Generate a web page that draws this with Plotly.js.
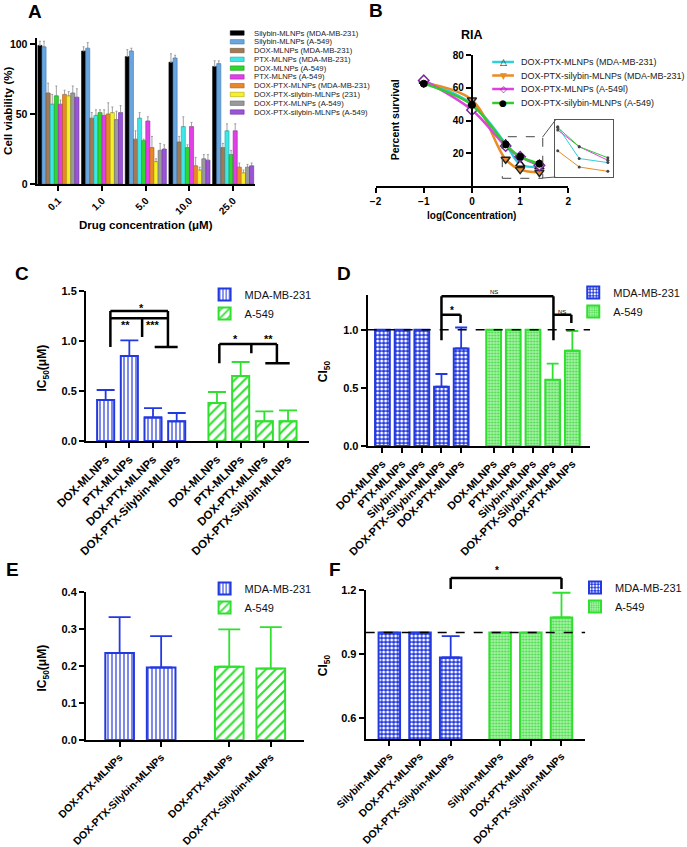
<!DOCTYPE html>
<html><head><meta charset="utf-8">
<script src="https://cdn.plot.ly/plotly-3.0.1.min.js"></script>
<style>html,body{margin:0;padding:0;background:#fff}</style>
</head><body><div id="chart" style="width:687px;height:847px"></div>
<script>
// ================= DATA =================
// Panel A: cell viability (%) at each drug concentration
const concLabels = ['0.1', '1.0', '5.0', '10.0', '25.0'];
const aNames = ['Silybin-MLNPs (MDA-MB-231)', 'Silybin-MLNPs (A-549)', 'DOX-MLNPs (MDA-MB-231)',
  'PTX-MLNPs (MDA-MB-231)', 'DOX-MLNPs (A-549)', 'PTX-MLNPs (A-549)', 'DOX-PTX-MLNPs (MDA-MB-231)',
  'DOX-PTX-silybin-MLNPs (231)', 'DOX-PTX-MLNPs (A-549)', 'DOX-PTX-silybin-MLNPs (A-549)'];
const silybinMDA = [99, 95, 91, 87, 84];
const silybinA549 = [98, 97, 95, 90, 86];
const doxMDA = [65, 47, 32, 30, 26];
const ptxMDA = [57, 49, 47, 41, 38];
const doxA549 = [63, 51, 31, 26, 21];
const ptxA549 = [57, 49, 45, 41, 38];
const doxPtxMDA = [64, 50, 26, 13, 12];
const doxPtxSilMDA = [63, 51, 16, 10, 8];
const doxPtxA549 = [65, 46, 24, 18, 12];
const doxPtxSilA549 = [62, 51, 25, 17, 13];
const silybinMDAErr = [3, 3, 5, 6, 4];
const silybinA549Err = [4, 4, 2, 2, 2];
const doxMDAErr = [7, 4, 6, 4, 3];
const ptxMDAErr = [7, 4, 4, 7, 5];
const doxA549Err = [7, 2, 1, 2, 3];
const ptxA549Err = [3, 4, 3, 3, 5];
const doxPtxMDAErr = [3, 8, 8, 6, 3];
const doxPtxSilMDAErr = [3, 4, 2, 2, 2];
const doxPtxA549Err = [5, 6, 5, 3, 2];
const doxPtxSilA549Err = [6, 5, 3, 4, 2];

// Panel B: RIA percent survival vs log(concentration)
const logConc = [-1, 0, 0.7, 1, 1.4];
const bNames = ['DOX-PTX-MLNPs (MDA-MB-231)', 'DOX-PTX-silybin-MLNPs (MDA-MB-231)', 'DOX-PTX-MLNPs (A-549l)', 'DOX-PTX-silybin-MLNPs (A-549)'];
const survDoxPtxMDA = [64, 50, 25.7, 13.3, 11.7];
const survDoxPtxSilMDA = [63, 52.5, 16.3, 10, 8.3];
const survDoxPtxA549 = [64.5, 46.4, 24.4, 17.9, 12.6];
const survDoxPtxSilA549 = [62.5, 49.5, 25.4, 17.9, 13.6];

// Panel C: IC50 (uM)
const cLabels = ['DOX-MLNPs', 'PTX-MLNPs', 'DOX-PTX-MLNPs', 'DOX-PTX-Silybin-MLNPs'];
const cMDA = [0.41, 0.85, 0.235, 0.197];
const cMDAErr = [0.10, 0.157, 0.093, 0.083];
const cA549 = [0.38, 0.65, 0.197, 0.197];
const cA549Err = [0.11, 0.14, 0.10, 0.11];

// Panel D: CI50
const dLabels = ['DOX-MLNPs', 'PTX-MLNPs', 'Silybin-MLNPs', 'DOX-PTX-Silybin-MLNPs', 'DOX-PTX-MLNPs'];
const dMDA = [1, 1, 1, 0.51, 0.84];
const dMDAErr = [0, 0, 0, 0.11, 0.18];
const dA549 = [1, 1, 1, 0.57, 0.82];
const dA549Err = [0, 0, 0, 0.14, 0.17];

// Panel E: IC50 (uM)
const eLabels = ['DOX-PTX-MLNPs', 'DOX-PTX-Silybin-MLNPs'];
const eMDA = [0.235, 0.196];
const eMDAErr = [0.097, 0.085];
const eA549 = [0.198, 0.193];
const eA549Err = [0.101, 0.112];

// Panel F: CI50
const fLabels = ['Silybin-MLNPs', 'DOX-PTX-MLNPs', 'DOX-PTX-Silybin-MLNPs'];
const fMDA = [1, 1, 0.883];
const fMDAErr = [0, 0, 0.10];
const fA549 = [1, 1, 1.071];
const fA549Err = [0, 0, 0.116];

const groupNames = ['MDA-MB-231', 'A-549'];

// ================= STYLE / LAYOUT HELPERS =================
const W = 687, H = 847;
const PX = x => x / W, PY = y => 1 - y / H;
const dx = (a, b) => [PX(a), PX(b)];
const dy = (top, bottom) => [PY(bottom), PY(top)];
const FONT = 'Arial, "Liberation Sans", Helvetica, sans-serif';
const BLUE = '#2339e0', GREEN = '#2fe02f';

const aValues = [silybinMDA, silybinA549, doxMDA, ptxMDA, doxA549, ptxA549, doxPtxMDA, doxPtxSilMDA, doxPtxA549, doxPtxSilA549];
const aErrors = [silybinMDAErr, silybinA549Err, doxMDAErr, ptxMDAErr, doxA549Err, ptxA549Err, doxPtxMDAErr, doxPtxSilMDAErr, doxPtxA549Err, doxPtxSilA549Err];
const aColors = ['#000000', '#6aa6de', '#a27b56', '#3ee6e6', '#2fd62f', '#e040e6', '#e8882a', '#f4f02a', '#9a9a9a', '#9a55d6'];
const aLines = ['#000000', '#3a78b8', '#6e5034', '#1aa8a8', '#1a9a1a', '#a020a8', '#b05a10', '#b0a800', '#666666', '#6a2aa8'];

const bSeries = [survDoxPtxMDA, survDoxPtxSilMDA, survDoxPtxA549, survDoxPtxSilA549];
const bColors = ['#2fd0dc', '#e98c25', '#e040e0', '#35c835'];
const bMarkers = [
  {symbol: 'triangle-up', size: 8, color: '#ffffff', line: {color: '#111', width: 1.5}},
  {symbol: 'triangle-down', size: 8, color: '#e98c25', line: {color: '#222', width: 1.5}},
  {symbol: 'diamond', size: 8, color: '#ffffff', line: {color: '#7a2aa0', width: 1.5}},
  {symbol: 'circle', size: 7, color: '#000000', line: {color: '#000', width: 1}}
];
const bLegendGlyphs = ['\u25B3', '\u25BC', '\u25C7', '\u25CF'];
const bLegendGlyphColors = ['#111', '#e98c25', '#7a2aa0', '#000'];

function axis(extra) {
  return Object.assign({
    showline: true, linecolor: '#000', linewidth: 2, ticks: 'outside', ticklen: 5, tickwidth: 2,
    tickcolor: '#000', showgrid: false, zeroline: false, fixedrange: true,
    tickfont: {family: FONT, size: 11, color: '#000', weight: 'bold'}
  }, extra);
}

// Position helper for grouped category bars placed on a numeric axis
function positions(n, group, gap) { return Array.from({length: n}, (_, i) => group * (n + gap) + i); }

const traces = [];

// ---------- Panel A ----------
aValues.forEach((vals, i) => {
  traces.push({
    type: 'bar', x: concLabels, y: vals, name: aNames[i], xaxis: 'x', yaxis: 'y', showlegend: false,
    marker: {color: aColors[i], line: {color: aLines[i], width: 0.6}},
    error_y: {type: 'data', symmetric: false, array: aErrors[i], arrayminus: vals.map(() => 0),
      color: '#8a8a8a', thickness: 0.8, width: 1}
  });
});

// ---------- Panel B ----------
bSeries.forEach((vals, i) => {
  traces.push({
    type: 'scatter', mode: 'lines+markers', x: logConc, y: vals, name: bNames[i], xaxis: 'x2', yaxis: 'y2',
    showlegend: false, line: {color: bColors[i], width: 2.5, shape: 'spline', smoothing: 1}, marker: bMarkers[i]
  });
  traces.push({
    type: 'scatter', mode: 'lines+markers', x: logConc.slice(2), y: vals.slice(2), name: bNames[i],
    xaxis: 'x3', yaxis: 'y3', showlegend: false, line: {color: bColors[i], width: 1},
    marker: {size: 3, color: '#444'}
  });
});

// ---------- Bar panels C-F ----------
function barPair(valsA, errA, valsB, errB, n, gap, xa, ya, width, cap, patA, patB, legend) {
  const specs = [[valsA, errA, BLUE, patA], [valsB, errB, GREEN, patB]];
  specs.forEach(([vals, err, col, pat], g) => {
    traces.push({
      type: 'bar', x: positions(n, g, gap), y: vals, name: groupNames[g], xaxis: xa, yaxis: ya,
      width: width, offset: -width / 2, legend: legend,
      marker: {color: pat.bgcolor, pattern: pat, line: {color: col, width: 2}},
      error_y: {type: 'data', symmetric: false, array: err, arrayminus: vals.map(() => 0),
        color: col, thickness: 1.8, width: cap, visible: true}
    });
  });
}
const patStripeV = {shape: '|', fgcolor: BLUE, bgcolor: '#ffffff', size: 4, solidity: 0.3};
const patDiag = {shape: '/', fgcolor: GREEN, bgcolor: '#ffffff', size: 7, solidity: 0.3};
const patCheck = {shape: '.', fgcolor: '#ffffff', bgcolor: BLUE, size: 4, solidity: 0.45};
const patDots = {shape: '.', fgcolor: '#3fd93f', bgcolor: '#a6f2a6', size: 3, solidity: 0.35};

const C_GAP = 0.7, D_GAP = 0.65, E_GAP = 0.64, F_GAP = 0.61;
barPair(cMDA, cMDAErr, cA549, cA549Err, cLabels.length, C_GAP, 'x4', 'y4', 0.72, 9, patStripeV, patDiag, 'legend');
barPair(dMDA, dMDAErr, dA549, dA549Err, dLabels.length, D_GAP, 'x5', 'y5', 0.75, 6, patCheck, patDots, 'legend2');
barPair(eMDA, eMDAErr, eA549, eA549Err, eLabels.length, E_GAP, 'x6', 'y6', 0.69, 11, patStripeV, patDiag, 'legend3');
barPair(fMDA, fMDAErr, fA549, fA549Err, fLabels.length, F_GAP, 'x7', 'y7', 0.70, 9, patCheck, patDots, 'legend4');

function tickPos(n, gap) { return positions(n, 0, gap).concat(positions(n, 1, gap)); }
function tickTxt(labels) { return labels.concat(labels); }

// ================= SHAPES & ANNOTATIONS =================
const shapes = [];
const annotations = [];
function seg(xref, yref, x0, y0, x1, y1, w, color, dash) {
  shapes.push({type: 'line', xref, yref, x0, y0, x1, y1, layer: 'above',
    line: {color: color || '#000', width: w || 2.5, dash: dash || 'solid'}});
}
function text(t, x, y, opt) {
  annotations.push(Object.assign({text: t, x: PX(x), y: PY(y), xref: 'paper', yref: 'paper',
    showarrow: false, xanchor: 'center', yanchor: 'middle',
    font: {family: FONT, size: 11, color: '#000', weight: 'bold'}}, opt || {}));
}

// Panel letters
[['A', 35, 11], ['B', 380, 9], ['C', 22, 272], ['D', 348, 272], ['E', 13, 568], ['F', 339, 568]].forEach(([t, x, y]) =>
  text(t, x, y + 1, {font: {family: FONT, size: 19, color: '#000', weight: 'bold'}}));

// Axis titles
text('Cell viability (%)', 8, 111, {textangle: -90, font: {family: FONT, size: 11.5, color: '#000', weight: 'bold'}});
text('Drug concentration (\u03bcM)', 147.5, 225, {font: {family: FONT, size: 11.5, color: '#000', weight: 'bold'}});
text('RIA', 477.5, 35, {font: {family: FONT, size: 12.5, color: '#000', weight: 'bold'}});
text('log(Concentration)', 477.5, 215, {font: {family: FONT, size: 10, color: '#000', weight: 'bold'}});
text('Percent survival', 400, 120, {textangle: -90, font: {family: FONT, size: 10.5, color: '#000', weight: 'bold'}});
text('IC<sub>50</sub>(\u03bcM)', 44, 368, {textangle: -90, font: {family: FONT, size: 12, color: '#000', weight: 'bold'}});
text('CI<sub>50</sub>', 328, 371, {textangle: -90, font: {family: FONT, size: 12, color: '#000', weight: 'bold'}});
text('IC<sub>50</sub>(\u03bcM)', 44, 668, {textangle: -90, font: {family: FONT, size: 12, color: '#000', weight: 'bold'}});
text('CI<sub>50</sub>', 328, 665, {textangle: -90, font: {family: FONT, size: 12, color: '#000', weight: 'bold'}});

// Panel A manual legend
aNames.forEach((nm, i) => {
  const yc = 33 + i * 8.78;
  shapes.push({type: 'rect', xref: 'paper', yref: 'paper', x0: PX(233), x1: PX(247), y0: PY(yc + 2.2), y1: PY(yc - 2.2),
    fillcolor: aColors[i], line: {color: aLines[i], width: 0.6}});
  text(nm, 255, yc, {xanchor: 'left', font: {family: FONT, size: 7.7, color: '#222'}});
});

// Panel B manual legend
bNames.forEach((nm, i) => {
  const yc = [62, 75.5, 89, 103][i];
  seg('paper', 'paper', PX(498), PY(yc), PX(520), PY(yc), 2.5, bColors[i]);
  text(bLegendGlyphs[i], 509, yc, {font: {family: 'DejaVu Sans, sans-serif', size: 9, color: bLegendGlyphColors[i]}});
  text(nm, 525, yc, {xanchor: 'left', font: {family: FONT, size: 9.0, color: '#222'}});
});

// Panel B zoom box + connectors
shapes.push({type: 'rect', xref: 'x2', yref: 'y2', x0: 0.63, x1: 1.47, y0: 4.7, y1: 30.1,
  line: {color: '#444', width: 1, dash: 'dash'}});
seg('paper', 'paper', PX(549), PY(137), PX(562), PY(120), 1, '#555');
seg('paper', 'paper', PX(549), PY(178), PX(562), PY(177), 1, '#555');

// Panel C significance brackets
seg('x4', 'y4', 0.2, 1.30, 2.63, 1.30);
seg('x4', 'y4', 0.2, 1.227, 2.63, 1.227);
seg('x4', 'y4', 0.2, 1.30, 0.2, 0.94);
seg('x4', 'y4', 2.63, 1.30, 2.63, 0.94);
seg('x4', 'y4', 2.07, 0.94, 3.04, 0.94);
seg('x4', 'y4', 1.54, 1.227, 1.54, 1.04);
seg('x4', 'y4', 4.8, 0.97, 7.23, 0.97);
seg('x4', 'y4', 4.8, 0.97, 4.8, 0.777);
seg('x4', 'y4', 7.23, 0.97, 7.23, 0.777);
seg('x4', 'y4', 6.74, 0.777, 7.77, 0.777);
seg('x4', 'y4', 6.15, 0.97, 6.15, 0.877);
text('*', 143, 308);
text('**', 127, 325);
text('***', 155, 325);
text('*', 238, 339);
text('**', 272, 339);

// Panel D brackets + reference line
shapes.push({type: 'line', xref: 'x5 domain', yref: 'y5', x0: 0, x1: 1, y0: 1, y1: 1, line: {color: '#000', width: 1.5, dash: 'dash'}});
seg('x5', 'y5', 3.0, 1.29, 8.69, 1.29);
seg('x5', 'y5', 3.0, 1.29, 3.0, 0.91);
seg('x5', 'y5', 8.69, 1.29, 8.69, 0.91);
seg('x5', 'y5', 3.0, 1.13, 3.97, 1.13);
seg('x5', 'y5', 3.97, 1.13, 3.97, 1.06);
seg('x5', 'y5', 8.69, 1.13, 9.6, 1.13);
seg('x5', 'y5', 9.6, 1.13, 9.6, 1.06);
text('NS', 500, 292, {font: {family: FONT, size: 6, color: '#000'}});
text('*', 457, 310, {font: {family: FONT, size: 10, color: '#000', weight: 'bold'}});
text('NS', 569, 312, {font: {family: FONT, size: 6, color: '#000'}});

// Panel F bracket + reference line
shapes.push({type: 'line', xref: 'x7 domain', yref: 'y7', x0: 0, x1: 1, y0: 1, y1: 1, line: {color: '#000', width: 1.5, dash: 'dash'}});
seg('x7', 'paper', 2, PY(578), 5.61, PY(578));
seg('x7', 'paper', 2, PY(578), 2, PY(589));
seg('x7', 'paper', 5.61, PY(578), 5.61, PY(589));
text('*', 503, 570, {font: {family: FONT, size: 10, color: '#000', weight: 'bold'}});

function legendCfg(x, y) {
  return {x: PX(x), y: PY(y), xanchor: 'left', yanchor: 'top', bgcolor: 'rgba(0,0,0,0)',
    font: {family: FONT, size: 11, color: '#111'}, tracegroupgap: 0, itemclick: false};
}

const layout = {
  width: W, height: H, margin: {l: 0, r: 0, t: 0, b: 0}, paper_bgcolor: '#fff', plot_bgcolor: 'rgba(0,0,0,0)',
  font: {family: FONT, color: '#000'},
  barmode: 'group', bargap: 0.06, bargroupgap: 0,
  // A
  xaxis: axis({domain: dx(37, 258), anchor: 'y', type: 'category', range: [-0.5, 4.5], tickangle: -45,
    tickfont: {family: FONT, size: 10, color: '#000', weight: 'bold'}}),
  yaxis: axis({domain: dy(38, 184), anchor: 'x', range: [0, 104.3], tickvals: [0, 50, 100],
    tickfont: {family: FONT, size: 10.5, color: '#000', weight: 'bold'}}),
  // B
  xaxis2: axis({domain: dx(380, 575), anchor: 'y2', range: [-2, 2], tickvals: [-2, -1, 0, 1, 2],
    tickfont: {family: FONT, size: 10, color: '#000', weight: 'bold'}}),
  yaxis2: axis({domain: dy(55, 186), anchor: 'free', position: PX(477.5), range: [0, 80], tickvals: [20, 40, 60, 80],
    tickfont: {family: FONT, size: 10, color: '#000', weight: 'bold'}}),
  // B inset
  xaxis3: {domain: dx(562, 620), anchor: 'y3', range: [0.668, 1.469], showline: true, mirror: true, linecolor: '#555',
    linewidth: 1, showticklabels: false, ticks: '', showgrid: false, zeroline: false, fixedrange: true},
  yaxis3: {domain: dy(120, 177), anchor: 'x3', range: [6.1, 28.3], showline: true, mirror: true, linecolor: '#555',
    linewidth: 1, showticklabels: false, ticks: '', showgrid: false, zeroline: false, fixedrange: true},
  // C
  xaxis4: axis({domain: dx(87, 313), anchor: 'y4', range: [-0.83, 8.6], tickvals: tickPos(cLabels.length, C_GAP),
    ticktext: tickTxt(cLabels), tickangle: -45, tickfont: {family: FONT, size: 11.5, color: '#000', weight: 'bold'}}),
  yaxis4: axis({domain: dy(291, 441), anchor: 'x4', range: [0, 1.5], tickvals: [0, 0.5, 1, 1.5], tickformat: '.1f'}),
  // D
  xaxis5: axis({domain: dx(372, 597), anchor: 'y5', range: [-0.75, 10.55], tickvals: tickPos(dLabels.length, D_GAP),
    ticktext: tickTxt(dLabels), tickangle: -45, tickfont: {family: FONT, size: 11, color: '#000', weight: 'bold'}}),
  yaxis5: axis({domain: dy(295, 446), anchor: 'x5', range: [0, 1.3], tickvals: [0, 0.5, 1], tickformat: '.1f'}),
  // E
  xaxis6: axis({domain: dx(87, 308), anchor: 'y6', range: [-0.81, 4.45], tickvals: tickPos(eLabels.length, E_GAP),
    ticktext: tickTxt(eLabels), tickangle: -45, tickfont: {family: FONT, size: 10.5, color: '#000', weight: 'bold'}}),
  yaxis6: axis({domain: dy(592, 740), anchor: 'x6', range: [0, 0.4], tickvals: [0, 0.1, 0.2, 0.3, 0.4], tickformat: '.1f'}),
  // F
  xaxis7: axis({domain: dx(370, 592), anchor: 'y7', range: [-0.77, 6.38], tickvals: tickPos(fLabels.length, F_GAP),
    ticktext: tickTxt(fLabels), tickangle: -45, tickfont: {family: FONT, size: 10.5, color: '#000', weight: 'bold'}}),
  yaxis7: axis({domain: dy(590, 739), anchor: 'x7', range: [0.5, 1.2], tickvals: [0.6, 0.9, 1.2], tickformat: '.1f'}),
  legend: legendCfg(207, 280),
  legend2: legendCfg(580, 278),
  legend3: legendCfg(207, 574),
  legend4: legendCfg(582, 573),
  shapes: shapes,
  annotations: annotations
};

Plotly.newPlot('chart', traces, layout, {staticPlot: true, displayModeBar: false});
</script>
</body></html>
